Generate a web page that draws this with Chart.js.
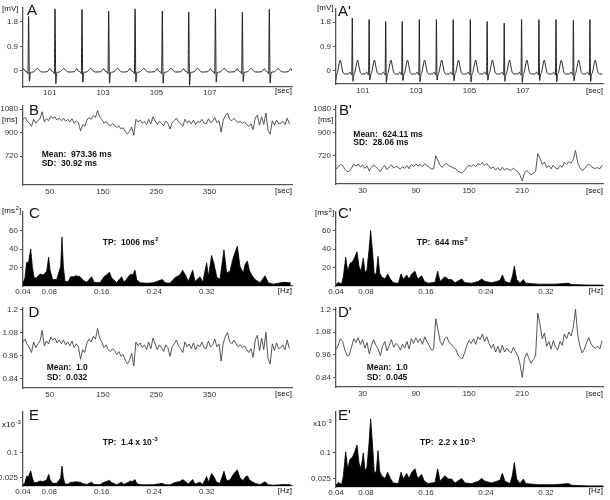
<!DOCTYPE html>
<html>
<head>
<meta charset="utf-8">
<script src="https://cdn.jsdelivr.net/npm/chart.js@4/dist/chart.umd.min.js"></script>
<style>
  body { margin: 0; background: #fff; width: 610px; height: 500px; overflow: hidden; position: relative; }
  canvas { position: absolute; }
</style>
</head>
<body>
<canvas id="pA"></canvas><canvas id="pA2"></canvas>
<canvas id="pB"></canvas><canvas id="pB2"></canvas>
<canvas id="pC"></canvas><canvas id="pC2"></canvas>
<canvas id="pD"></canvas><canvas id="pD2"></canvas>
<canvas id="pE"></canvas><canvas id="pE2"></canvas>
<script>
// ---- ECG (panels A / A') : R peak times [sec], heights and S depths [mV]
var ecgRTimesA = [100.21, 101.20, 102.21, 103.21, 104.20, 105.22, 106.21, 107.21, 108.22, 109.23, 110.23];
var ecgRHeightsA = [2.0, 2.28, 2.26, 2.2, 2.28, 2.2, 2.16, 2.28, 2.16, 2.26, 2.2];
var ecgSDepthsA = [-0.38, -0.47, -0.41, -0.45, -0.41, -0.45, -0.53, -0.41, -0.39, -0.45, -0.42];
// one beat of the left ECG, offsets from R [sec] and level [mV]
var beatOffsetsA = [-0.30, -0.24, -0.19, -0.14, -0.06, -0.025, 0, 0.03, 0.065, 0.16, 0.26, 0.33, 0.40, 0.50];
var beatShapeA = [-0.03, 0.02, 0.09, 0.0, -0.04, -0.10, "R", "S", -0.06, -0.04, 0.03, 0.10, 0.02, -0.04];

var ecgRTimesA2 = [99.96, 100.61, 101.24, 101.86, 102.48, 103.12, 103.76, 104.39, 105.03, 105.66, 106.30, 106.95, 107.60, 108.24, 108.89, 109.51];
var ecgRHeightsA2 = [1.9, 1.95, 1.89, 1.82, 1.82, 1.89, 1.89, 1.89, 1.89, 1.82, 1.76, 1.89, 1.89, 1.89, 1.86, 1.89];
var ecgSDepthsA2 = [-0.35, -0.38, -0.33, -0.42, -0.35, -0.40, -0.33, -0.36, -0.41, -0.34, -0.38, -0.42, -0.35, -0.40, -0.36, -0.39];
var beatOffsetsA2 = [-0.13, -0.09, -0.05, -0.02, 0, 0.025, 0.06, 0.10, 0.15, 0.20, 0.25, 0.30, 0.38, 0.46];
var beatShapeA2 = [-0.10, -0.04, -0.10, -0.15, "R", "S", -0.14, -0.04, 0.22, 0.40, 0.18, -0.05, -0.11, -0.11];

// ---- RR intervals [ms] (B / B') and normalised (D / D')
var rrStepLeft = 4;     // sec between samples
var rrStepRight = 2.5;
var rrLeft = [1003,1017,988,973,949,1003,973,992,1007,1061,
  983,1007,992,1027,1012,1022,997,1012,992,1012,
  988,1003,983,1007,973,992,978,915,963,949,
  997,1017,1003,1031,1017,1070,1022,1003,973,988,
  963,954,968,958,939,954,929,939,910,890,
  910,944,881,1003,983,997,973,988,963,1003,
  968,1022,992,963,988,973,954,988,973,929,
  978,992,1012,983,968,949,1003,978,992,968,
  997,963,988,978,1003,973,968,1007,978,988,
  1017,978,992,905,997,1031,1051,1003,992,1012,
  992,978,988,973,983,963,949,968,924,1012,
  1036,958,1022,963,1051,919,890,992,958,997,
  968,973,988,963,1012,968];
var rrRight = [618,630,652,643,615,596,599,624,652,640,
  655,633,649,621,640,602,630,649,630,618,
  596,627,643,612,630,649,624,636,630,615,
  633,621,643,618,652,636,655,640,652,633,
  658,643,630,615,618,718,680,643,630,652,
  658,640,633,624,618,599,590,587,605,630,
  646,636,652,633,658,649,668,643,658,636,
  621,633,608,627,605,630,608,621,612,605,
  624,608,596,568,524,587,605,587,571,583,
  596,736,699,652,671,627,643,618,646,624,
  615,643,630,668,652,674,661,690,760,665,
  627,605,618,640,655,636,624,621,627,618,
  646];
var normLeft = [1.03,1.045,1.015,1.00,0.975,1.03,1.0,1.02,1.035,1.09,
  1.01,1.035,1.02,1.055,1.04,1.05,1.025,1.04,1.02,1.04,
  1.015,1.03,1.01,1.035,1.0,1.02,1.005,0.94,0.99,0.975,
  1.025,1.045,1.03,1.06,1.045,1.10,1.05,1.03,1.0,1.015,
  0.99,0.98,0.995,0.985,0.965,0.98,0.955,0.965,0.935,0.915,
  0.935,0.97,0.905,1.03,1.01,1.025,1.0,1.015,0.99,1.03,
  0.995,1.05,1.02,0.99,1.015,1.0,0.98,1.015,1.0,0.955,
  1.005,1.02,1.04,1.01,0.995,0.975,1.03,1.005,1.02,0.995,
  1.025,0.99,1.015,1.005,1.03,1.0,0.995,1.035,1.005,1.015,
  1.045,1.005,1.02,0.93,1.025,1.06,1.08,1.03,1.02,1.04,
  1.02,1.005,1.015,1.0,1.01,0.99,0.975,0.995,0.95,1.04,
  1.065,0.985,1.05,0.99,1.08,0.945,0.915,1.02,0.985,1.025,
  0.995,1.0,1.015,0.99,1.04,0.995];
var normRight = [0.99,1.01,1.045,1.03,0.985,0.955,0.96,1.0,1.045,1.025,
  1.05,1.015,1.04,0.995,1.025,0.965,1.01,1.04,1.01,0.99,
  0.955,1.005,1.03,0.98,1.01,1.04,1.0,1.02,1.01,0.985,
  1.015,0.995,1.03,0.99,1.045,1.02,1.05,1.025,1.045,1.015,
  1.055,1.03,1.01,0.985,0.99,1.15,1.09,1.03,1.01,1.045,
  1.055,1.025,1.015,1.0,0.99,0.96,0.945,0.94,0.97,1.01,
  1.035,1.02,1.045,1.015,1.055,1.04,1.07,1.03,1.055,1.02,
  0.995,1.015,0.975,1.005,0.97,1.01,0.975,0.995,0.98,0.97,
  1.0,0.975,0.955,0.91,0.84,0.94,0.97,0.94,0.915,0.935,
  0.955,1.18,1.12,1.045,1.075,1.005,1.03,0.99,1.035,1.0,
  0.985,1.03,1.01,1.07,1.045,1.08,1.06,1.105,1.2,1.065,
  1.005,0.97,0.99,1.025,1.05,1.02,1.0,0.995,1.005,0.99,
  1.035];

// ---- spectra: frequency [Hz], power [ms2] (C / C') and normalised x10^-3 (E / E')
var psdFreqLeft = [0.040,0.043,0.0456,0.0481,0.0517,0.0542,0.0568,0.0608,0.0659,0.071,
  0.0761,0.0791,0.0812,0.0852,0.0913,0.0974,0.0994,0.1015,0.104,0.1091,
  0.1127,0.1167,0.1208,0.1269,0.132,0.1371,0.1447,0.1482,0.1573,0.1634,
  0.1675,0.1716,0.1751,0.1827,0.1903,0.1939,0.2041,0.2071,0.2107,0.2132,
  0.2183,0.2285,0.2386,0.2523,0.2564,0.264,0.2716,0.2793,0.2833,0.2874,
  0.292,0.2986,0.3021,0.3098,0.3139,0.3199,0.3225,0.3275,0.3311,0.3352,
  0.3402,0.3463,0.3504,0.3555,0.3606,0.3667,0.3707,0.3758,0.3784,0.3819,
  0.385,0.3885,0.3936,0.4013,0.4088,0.4139,0.4216,0.4368,0.448];
var psdLeft = [3,9,26,24,40,21,9,9,13,12,
  16,31,17,7,7,21,53,21,5,5,
  10,10,11,10,6,4,10,4,3.5,10,
  12,15,9,3.5,10,4,13,12,17,7,
  3.5,3,3.5,7,3.5,3,9,12,17,12,
  5,17,5,10,4,25,10,33,24,10,
  7,39,14,16,31,43,21,14,23,27,
  17,12,7,3.5,11,3.5,2,4,3.5];
var npsdLeft = [0.0034,0.0102,0.0294,0.0271,0.0452,0.0237,0.0102,0.0102,0.0147,0.0136,
  0.0181,0.035,0.0192,0.0079,0.0079,0.0237,0.0599,0.0237,0.0057,0.0057,
  0.0113,0.0113,0.0124,0.0113,0.0068,0.0045,0.0113,0.0045,0.004,0.0113,
  0.0136,0.017,0.0102,0.004,0.0113,0.0045,0.0147,0.0136,0.0192,0.0079,
  0.004,0.0034,0.004,0.0079,0.004,0.0034,0.0102,0.0136,0.0192,0.0136,
  0.0057,0.0192,0.0057,0.0113,0.0045,0.0283,0.0113,0.0373,0.0271,0.0113,
  0.0079,0.0441,0.0158,0.0181,0.035,0.0486,0.0237,0.0158,0.026,0.0305,
  0.0192,0.0136,0.0079,0.004,0.0124,0.004,0.0023,0.0045,0.004];
var psdFreqRight = [0.040,0.0431,0.0453,0.0476,0.0498,0.0529,0.0556,0.0587,0.0618,0.0653,
  0.068,0.0707,0.0733,0.0764,0.0787,0.0813,0.084,0.0862,0.0889,0.0911,
  0.0938,0.096,0.0982,0.1009,0.1053,0.1089,0.1124,0.1164,0.1231,0.1267,
  0.1298,0.1342,0.1373,0.1409,0.1453,0.1489,0.1542,0.1578,0.1631,0.172,
  0.1756,0.1787,0.1853,0.1898,0.1942,0.1987,0.2076,0.212,0.2209,0.2298,
  0.2342,0.2387,0.2476,0.2542,0.2587,0.2618,0.2653,0.272,0.2751,0.2778,
  0.2809,0.2853,0.2898,0.2929,0.3098,0.332,0.3498,0.3542,0.3764,0.396];
var psdRight = [1.5,4,3,2.5,10,31,16,24.5,26,31.5,
  37,21,16,30,14,17.5,38.5,60,35,12,
  14,32,14,10,7.5,13,7.5,3.5,3,13,
  7,12,7.5,13,16,7.5,11,5,3,4,
  16,5,10,7,7,3.5,7.5,3.5,3,5,
  7.5,5,3.5,5,6,12,5,3,10,21.5,
  7,3,7,3,2,2,3,1.5,1,1];
var npsdRight = [0.005,0.0133,0.01,0.0083,0.0333,0.1032,0.0533,0.0816,0.0866,0.1049,
  0.1232,0.0699,0.0533,0.0999,0.0466,0.0583,0.1282,0.1998,0.1166,0.04,
  0.0466,0.1066,0.0466,0.0333,0.025,0.0433,0.025,0.0117,0.01,0.0433,
  0.0233,0.04,0.025,0.0433,0.0533,0.025,0.0366,0.0167,0.01,0.0133,
  0.0533,0.0167,0.0333,0.0233,0.0233,0.0117,0.025,0.0117,0.01,0.0167,
  0.025,0.0167,0.0117,0.0167,0.02,0.04,0.0167,0.01,0.0333,0.0716,
  0.0233,0.01,0.0233,0.01,0.0067,0.0067,0.01,0.005,0.0033,0.0033];

// ---- tick labels
var ecgTicksX = [101, 103, 105, 107];
var ecgTicksY = [0, 0.9, 1.8];
var rrTicksXLeft = [50, 150, 250, 350];
var rrTicksXRight = [30, 90, 150, 210];
var rrTicksY = [720, 900, 1080];
var psdTicksX = [0.04, 0.08, 0.16, 0.24, 0.32];
var psdTicksY = [20, 40, 60];
var normTicksY = [0.84, 0.96, 1.08, 1.2];
var npsdTicksY = [0.025, 0.1];

// ------------------------------------------------------------------
const W = 305, H = 100;
const FAM = '"Liberation Sans", Arial, sans-serif';
const SMALL = '8px ' + FAM;
const LETTER = '15px ' + FAM;
const BOLD = 'bold 8.5px ' + FAM;
const SUP = 'bold 6px ' + FAM;
const SUP_N = '6px ' + FAM;
const AXIS = '#555';

function buildEcg(rTimes, rHeights, sDepths, offsets, shape) {
  const pts = [];
  rTimes.forEach((r, i) => {
    offsets.forEach((dt, k) => {
      let v = shape[k];
      if (v === "R") v = rHeights[i];
      else if (v === "S") v = sDepths[i];
      pts.push({ x: +(r + dt).toFixed(3), y: v });
    });
  });
  return pts;
}
function series(vals, step) { return vals.map((v, i) => ({ x: i * step, y: v })); }
function zip(xs, ys) { return xs.map((x, i) => ({ x: x, y: ys[i] })); }

// text on top of each panel (labels, letters, statistics)
function notes(o) {
  return {
    id: 'notes',
    afterDraw(chart) {
      const ctx = chart.ctx;
      ctx.save();
      ctx.textBaseline = 'middle';
      ctx.fillStyle = '#111';
      o.notes.forEach(n => {
        const x = n.x - o.ox, y = n.y - o.oy;
        ctx.font = n.font;
        ctx.textAlign = n.align || 'left';
        ctx.fillText(n.text, x, y);
        if (n.sup) {
          let cx = x + ctx.measureText(n.text).width + 0.5;
          ctx.font = n.supFont || SUP_N;
          ctx.textAlign = 'left';
          ctx.fillText(n.sup, cx, y - 3);
          cx += ctx.measureText(n.sup).width + 0.3;
          if (n.after) { ctx.font = n.font; ctx.fillText(n.after, cx, y); }
        }
      });
      ctx.restore();
    }
  };
}

function makeChart(id, o) {
  const cv = document.getElementById(id);
  cv.width = W; cv.height = H;
  cv.style.left = o.ox + 'px'; cv.style.top = o.oy + 'px';
  const tickFont = { family: FAM, size: 8 };
  return new Chart(cv.getContext('2d'), {
    type: 'line',
    data: { datasets: o.datasets },
    options: {
      responsive: false,
      animation: false,
      events: [],
      layout: { padding: { left: 0, top: o.area.t, right: W - o.area.r, bottom: 0 } },
      plugins: { legend: { display: false }, tooltip: { enabled: false } },
      elements: { point: { radius: 0 } },
      scales: {
        x: {
          type: 'linear', min: o.x.min, max: o.x.max,
          afterFit: s => { s.height = H - o.area.b; s.paddingLeft = 0; s.paddingRight = 0; },
          afterBuildTicks: s => { s.ticks = o.x.ticks.map(v => ({ value: v })); },
          ticks: { autoSkip: false, maxRotation: 0, padding: o.x.pad, color: '#333', font: tickFont, callback: v => String(v) },
          grid: { display: false, drawTicks: false },
          border: { display: true, color: AXIS, width: 1.3 }
        },
        y: {
          type: 'linear', min: o.y.min, max: o.y.max,
          afterFit: s => { s.width = o.area.l; s.paddingTop = 0; s.paddingBottom = 0; },
          afterBuildTicks: s => { s.ticks = o.y.ticks.map(v => ({ value: v })); },
          ticks: { autoSkip: false, padding: 2, color: '#333', font: tickFont, callback: v => String(v) },
          grid: { display: true, drawOnChartArea: false, drawTicks: true, tickLength: 3, color: AXIS, lineWidth: 1 },
          border: { display: true, color: AXIS, width: 1.3 }
        }
      }
    },
    plugins: [notes(o)]
  });
}

const ecgLine = { borderColor: '#222', borderWidth: 1, pointRadius: 0, cubicInterpolationMode: 'monotone', fill: false };
const rrLine = { borderColor: '#444', borderWidth: 0.9, pointRadius: 0, tension: 0, fill: false };
const psdArea = { borderColor: '#000', backgroundColor: '#000', borderWidth: 0.8, pointRadius: 0, tension: 0, fill: 'origin' };

// A
makeChart('pA', {
  ox: 0, oy: 0, area: { l: 23, r: 292, t: 8, b: 87 },
  x: { min: 100, max: 110.08, ticks: ecgTicksX, pad: 1 },
  y: { min: -0.59, max: 2.31, ticks: ecgTicksY },
  datasets: [Object.assign({ data: buildEcg(ecgRTimesA, ecgRHeightsA, ecgSDepthsA, beatOffsetsA, beatShapeA) }, ecgLine)],
  notes: [
    { x: 2, y: 9, text: '[mV]', font: SMALL },
    { x: 27, y: 11, text: 'A', font: LETTER },
    { x: 292, y: 91, text: '[sec]', font: SMALL, align: 'right' }
  ]
});
// A'
makeChart('pA2', {
  ox: 305, oy: 0, area: { l: 31, r: 298, t: 9, b: 84 },
  x: { min: 100, max: 110, ticks: ecgTicksX, pad: 2 },
  y: { min: -0.478, max: 2.278, ticks: ecgTicksY },
  datasets: [Object.assign({ data: buildEcg(ecgRTimesA2, ecgRHeightsA2, ecgSDepthsA2, beatOffsetsA2, beatShapeA2) }, ecgLine)],
  notes: [
    { x: 317, y: 8, text: '[mV]', font: SMALL },
    { x: 338, y: 12, text: "A'", font: LETTER },
    { x: 603, y: 91, text: '[sec]', font: SMALL, align: 'right' }
  ]
});
// B
makeChart('pB', {
  ox: 0, oy: 100, area: { l: 23, r: 292, t: 6, b: 85 },
  x: { min: 0, max: 505, ticks: rrTicksXLeft, pad: 2 },
  y: { min: 500, max: 1105, ticks: rrTicksY },
  datasets: [Object.assign({ data: series(rrLeft, rrStepLeft) }, rrLine)],
  notes: [
    { x: 29, y: 111, text: 'B', font: LETTER },
    { x: 2, y: 120, text: '[ms]', font: SMALL },
    { x: 292, y: 191, text: '[sec]', font: SMALL, align: 'right' },
    { x: 41.7, y: 154.3, text: 'Mean:  973.36 ms', font: BOLD },
    { x: 41.7, y: 163.3, text: 'SD:  30.92 ms', font: BOLD }
  ]
});
// B'
makeChart('pB2', {
  ox: 305, oy: 100, area: { l: 31, r: 298, t: 6, b: 84 },
  x: { min: 0, max: 301, ticks: rrTicksXRight, pad: 2 },
  y: { min: 500, max: 1105, ticks: rrTicksY },
  datasets: [Object.assign({ data: series(rrRight, rrStepRight) }, rrLine)],
  notes: [
    { x: 339, y: 111, text: "B'", font: LETTER },
    { x: 318, y: 120, text: '[ms]', font: SMALL },
    { x: 603, y: 191, text: '[sec]', font: SMALL, align: 'right' },
    { x: 353.3, y: 134.3, text: 'Mean:  624.11 ms', font: BOLD },
    { x: 353.3, y: 143, text: 'SD:  28.06 ms', font: BOLD }
  ]
});
// C
makeChart('pC', {
  ox: 0, oy: 200, area: { l: 23, r: 292, t: 12, b: 86 },
  x: { min: 0.04, max: 0.45, ticks: psdTicksX, pad: 1 },
  y: { min: 0, max: 80, ticks: psdTicksY },
  datasets: [Object.assign({ data: zip(psdFreqLeft, psdLeft) }, psdArea)],
  notes: [
    { x: 2, y: 211, text: '[ms', sup: '2', after: ']', font: SMALL },
    { x: 29, y: 214, text: 'C', font: LETTER },
    { x: 292, y: 291, text: '[Hz]', font: SMALL, align: 'right' },
    { x: 102.7, y: 242.7, text: 'TP:  1006 ms', sup: '2', supFont: SUP, font: BOLD }
  ]
});
// C'
makeChart('pC2', {
  ox: 305, oy: 200, area: { l: 31, r: 298, t: 12, b: 86 },
  x: { min: 0.04, max: 0.396, ticks: psdTicksX, pad: 1 },
  y: { min: 0, max: 80, ticks: psdTicksY },
  datasets: [Object.assign({ data: zip(psdFreqRight, psdRight) }, psdArea)],
  notes: [
    { x: 315, y: 213, text: '[ms', sup: '2', after: ']', font: SMALL },
    { x: 338, y: 214, text: "C'", font: LETTER },
    { x: 603, y: 291, text: '[Hz]', font: SMALL, align: 'right' },
    { x: 416.7, y: 242.7, text: 'TP:  644 ms', sup: '2', supFont: SUP, font: BOLD }
  ]
});
// D
makeChart('pD', {
  ox: 0, oy: 300, area: { l: 23, r: 292, t: 8, b: 88 },
  x: { min: 0, max: 505, ticks: rrTicksXLeft, pad: 2 },
  y: { min: 0.79, max: 1.207, ticks: normTicksY },
  datasets: [Object.assign({ data: series(normLeft, rrStepLeft) }, rrLine)],
  notes: [
    { x: 28.5, y: 313, text: 'D', font: LETTER },
    { x: 292, y: 394, text: '[sec]', font: SMALL, align: 'right' },
    { x: 46.7, y: 368, text: 'Mean:  1.0', font: BOLD },
    { x: 46.7, y: 378, text: 'SD:  0.032', font: BOLD }
  ]
});
// D'
makeChart('pD2', {
  ox: 305, oy: 300, area: { l: 31, r: 298, t: 8, b: 87 },
  x: { min: 0, max: 301, ticks: rrTicksXRight, pad: 2 },
  y: { min: 0.79, max: 1.207, ticks: normTicksY },
  datasets: [Object.assign({ data: series(normRight, rrStepRight) }, rrLine)],
  notes: [
    { x: 338, y: 313, text: "D'", font: LETTER },
    { x: 603, y: 394, text: '[sec]', font: SMALL, align: 'right' },
    { x: 366.7, y: 368, text: 'Mean:  1.0', font: BOLD },
    { x: 366.7, y: 378, text: 'SD:  0.045', font: BOLD }
  ]
});
// E
makeChart('pE', {
  ox: 0, oy: 400, area: { l: 23, r: 292, t: 12, b: 86 },
  x: { min: 0.04, max: 0.45, ticks: psdTicksX, pad: 1 },
  y: { min: 0, max: 0.222, ticks: npsdTicksY },
  datasets: [Object.assign({ data: zip(psdFreqLeft, npsdLeft) }, psdArea)],
  notes: [
    { x: 29, y: 416, text: 'E', font: LETTER },
    { x: 2, y: 425, text: 'x10', sup: '-3', font: SMALL },
    { x: 292, y: 491, text: '[Hz]', font: SMALL, align: 'right' },
    { x: 102.7, y: 442.7, text: 'TP:  1.4 x 10', sup: '-3', supFont: SUP, font: BOLD }
  ]
});
// E'
makeChart('pE2', {
  ox: 305, oy: 400, area: { l: 31, r: 298, t: 12, b: 87 },
  x: { min: 0.04, max: 0.396, ticks: psdTicksX, pad: 1 },
  y: { min: 0, max: 0.22, ticks: npsdTicksY },
  datasets: [Object.assign({ data: zip(psdFreqRight, npsdRight) }, psdArea)],
  notes: [
    { x: 338, y: 416, text: "E'", font: LETTER },
    { x: 313, y: 424, text: 'x10', sup: '-3', font: SMALL },
    { x: 603, y: 491, text: '[Hz]', font: SMALL, align: 'right' },
    { x: 420, y: 443, text: 'TP:  2.2 x 10', sup: '-3', supFont: SUP, font: BOLD }
  ]
});
</script>
</body>
</html>
